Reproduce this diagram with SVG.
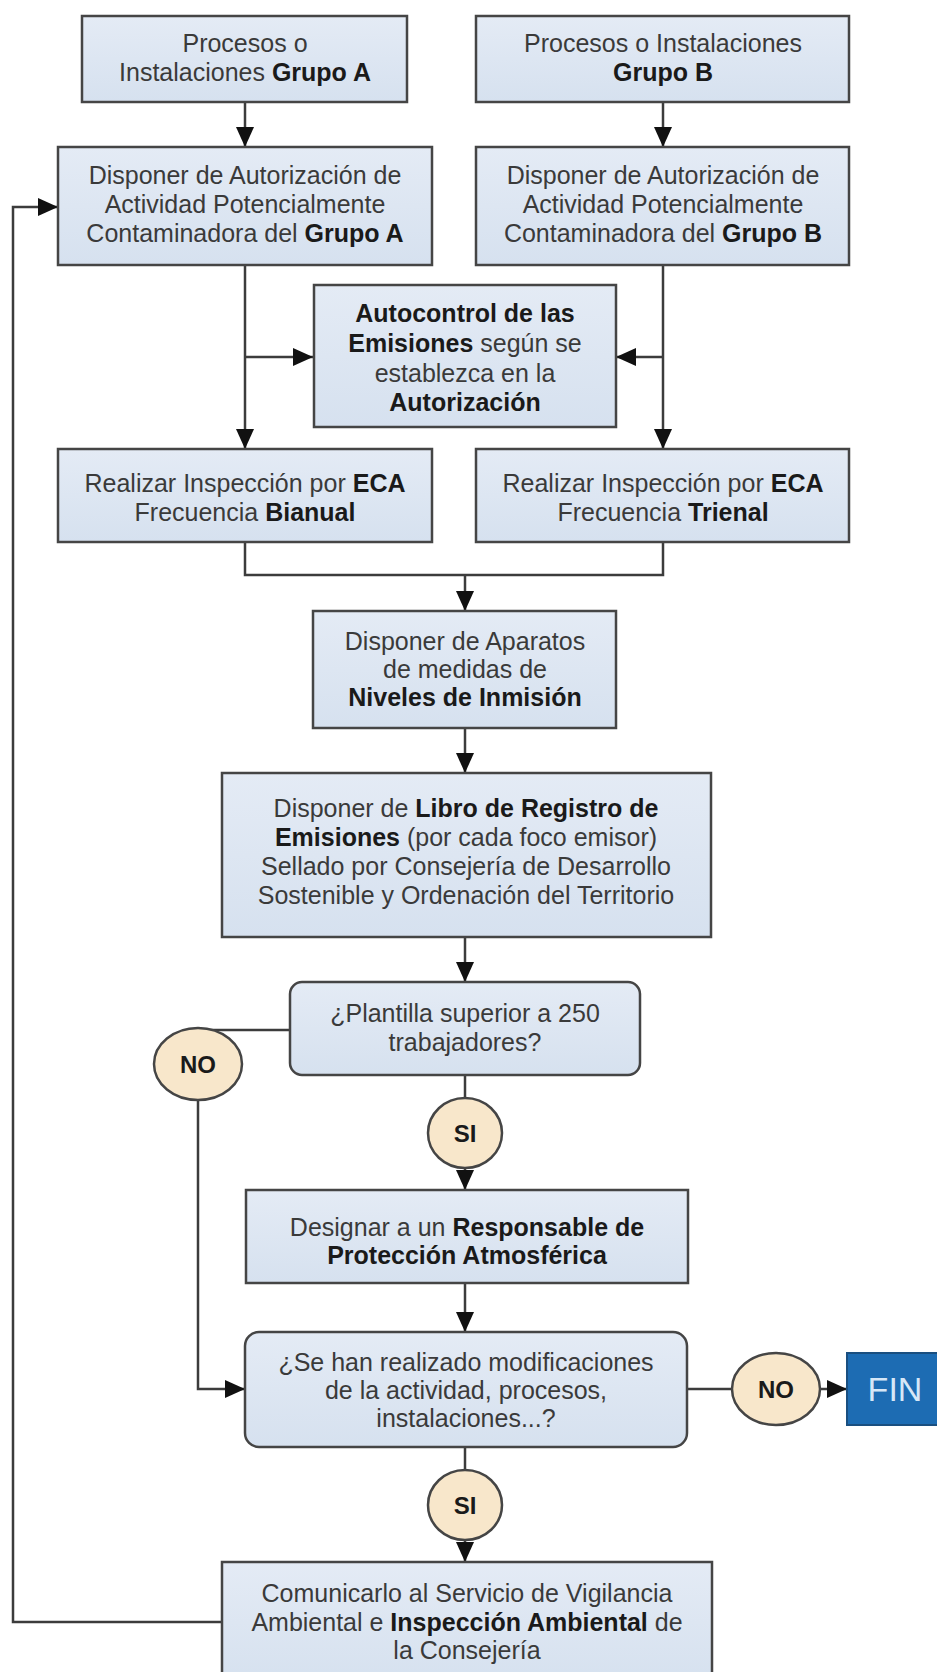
<svg xmlns="http://www.w3.org/2000/svg" width="937" height="1672" viewBox="0 0 937 1672">
<style>
.box{fill:url(#bg);stroke:#454545;stroke-width:2.5}
.oval{fill:#f8e7cb;stroke:#454545;stroke-width:2.5}
.ln{fill:none;stroke:#3c3c3c;stroke-width:2.5}
.arr{fill:none;stroke:#3c3c3c;stroke-width:2.5;marker-end:url(#ah)}
text{font-family:"Liberation Sans",Arial,sans-serif;font-size:25px;fill:#3a3a3a;text-anchor:middle}
.b{font-weight:bold;fill:#1a1a1a}
.lbl{font-weight:bold;font-size:24px;fill:#1a1a1a}
.fin{font-size:34px;fill:#d6e7f7}
</style>
<defs>
<linearGradient id="bg" x1="0" y1="0" x2="0" y2="1">
<stop offset="0" stop-color="#e4ebf5"/>
<stop offset="1" stop-color="#d6e1ef"/>
</linearGradient>
<marker id="ah" markerUnits="userSpaceOnUse" markerWidth="22" markerHeight="22" viewBox="0 0 22 22" refX="20" refY="11" orient="auto">
<path d="M0,2 L20,11 L0,20 Z" fill="#111"/>
</marker>
</defs>
<rect width="937" height="1672" fill="#ffffff"/>

<g id="connectors">
<path class="arr" d="M245,102 V147"/>
<path class="arr" d="M663,102 V147"/>
<path class="arr" d="M245,265 V449"/>
<path class="arr" d="M663,265 V449"/>
<path class="arr" d="M245,357 H313"/>
<path class="arr" d="M663,357 H616"/>
<path class="ln" d="M245,542 V575 H663 V542"/>
<path class="arr" d="M465,575 V611"/>
<path class="arr" d="M465,728 V773"/>
<path class="arr" d="M465,937 V982"/>
<path class="ln" d="M290,1030 H198"/>
<path class="arr" d="M198,1100 V1389 H245"/>
<path class="ln" d="M465,1075 V1098"/>
<path class="arr" d="M465,1167 V1190"/>
<path class="arr" d="M465,1283 V1332"/>
<path class="ln" d="M687,1389 H732"/>
<path class="arr" d="M820,1389 H847"/>
<path class="ln" d="M465,1447 V1470"/>
<path class="arr" d="M465,1540 V1562"/>
<path class="arr" d="M222,1622 H13 V207 H58"/>
</g>

<g id="n-proc-a">
<rect class="box" x="82" y="16" width="325" height="86"/>
<text x="245" y="52">Procesos o</text>
<text x="245" y="81">Instalaciones <tspan class="b">Grupo A</tspan></text>
</g>
<g id="n-proc-b">
<rect class="box" x="476" y="16" width="373" height="86"/>
<text x="663" y="52">Procesos o Instalaciones</text>
<text x="663" y="81" class="b">Grupo B</text>
</g>
<g id="n-aut-a">
<rect class="box" x="58" y="147" width="374" height="118"/>
<text x="245" y="184">Disponer de Autorización de</text>
<text x="245" y="213">Actividad Potencialmente</text>
<text x="245" y="242">Contaminadora del <tspan class="b">Grupo A</tspan></text>
</g>
<g id="n-aut-b">
<rect class="box" x="476" y="147" width="373" height="118"/>
<text x="663" y="184">Disponer de Autorización de</text>
<text x="663" y="213">Actividad Potencialmente</text>
<text x="663" y="242">Contaminadora del <tspan class="b">Grupo B</tspan></text>
</g>
<g id="n-autocontrol">
<rect class="box" x="314" y="285" width="302" height="142"/>
<text x="465" y="322" class="b">Autocontrol de las</text>
<text x="465" y="352"><tspan class="b">Emisiones</tspan> según se</text>
<text x="465" y="382">establezca en la</text>
<text x="465" y="411" class="b">Autorización</text>
</g>
<g id="n-insp-a">
<rect class="box" x="58" y="449" width="374" height="93"/>
<text x="245" y="492">Realizar Inspección por <tspan class="b">ECA</tspan></text>
<text x="245" y="521">Frecuencia <tspan class="b">Bianual</tspan></text>
</g>
<g id="n-insp-b">
<rect class="box" x="476" y="449" width="373" height="93"/>
<text x="663" y="492">Realizar Inspección por <tspan class="b">ECA</tspan></text>
<text x="663" y="521">Frecuencia <tspan class="b">Trienal</tspan></text>
</g>
<g id="n-aparatos">
<rect class="box" x="313" y="611" width="303" height="117"/>
<text x="465" y="650">Disponer de Aparatos</text>
<text x="465" y="678">de medidas de</text>
<text x="465" y="706" class="b">Niveles de Inmisión</text>
</g>
<g id="n-libro">
<rect class="box" x="222" y="773" width="489" height="164"/>
<text x="466" y="817">Disponer de <tspan class="b">Libro de Registro de</tspan></text>
<text x="466" y="846"><tspan class="b">Emisiones</tspan> (por cada foco emisor)</text>
<text x="466" y="875">Sellado por Consejería de Desarrollo</text>
<text x="466" y="904">Sostenible y Ordenación del Territorio</text>
</g>
<g id="n-plantilla">
<rect class="box" x="290" y="982" width="350" height="93" rx="12"/>
<text x="465" y="1022">¿Plantilla superior a 250</text>
<text x="465" y="1051">trabajadores?</text>
</g>
<g id="n-no1">
<ellipse class="oval" cx="198" cy="1064" rx="44" ry="36"/>
<text x="198" y="1073" class="lbl">NO</text>
</g>
<g id="n-si1">
<ellipse class="oval" cx="465" cy="1133" rx="37" ry="35"/>
<text x="465" y="1142" class="lbl">SI</text>
</g>
<g id="n-designar">
<rect class="box" x="246" y="1190" width="442" height="93"/>
<text x="467" y="1236">Designar a un <tspan class="b">Responsable de</tspan></text>
<text x="467" y="1264" class="b">Protección Atmosférica</text>
</g>
<g id="n-modif">
<rect class="box" x="245" y="1332" width="442" height="115" rx="14"/>
<text x="466" y="1371">¿Se han realizado modificaciones</text>
<text x="466" y="1399">de la actividad, procesos,</text>
<text x="466" y="1427">instalaciones...?</text>
</g>
<g id="n-no2">
<ellipse class="oval" cx="776" cy="1389" rx="44" ry="36"/>
<text x="776" y="1398" class="lbl">NO</text>
</g>
<g id="n-fin">
<rect x="847" y="1353" width="95" height="72" fill="#1d6cb3" stroke="#1a4f80" stroke-width="2"/>
<text x="895" y="1401" class="fin">FIN</text>
</g>
<g id="n-si2">
<ellipse class="oval" cx="465" cy="1505" rx="37" ry="35"/>
<text x="465" y="1514" class="lbl">SI</text>
</g>
<g id="n-comunicar">
<rect class="box" x="222" y="1562" width="490" height="120"/>
<text x="467" y="1602">Comunicarlo al Servicio de Vigilancia</text>
<text x="467" y="1631">Ambiental e <tspan class="b">Inspección Ambiental</tspan> de</text>
<text x="467" y="1659">la Consejería</text>
</g>
</svg>
